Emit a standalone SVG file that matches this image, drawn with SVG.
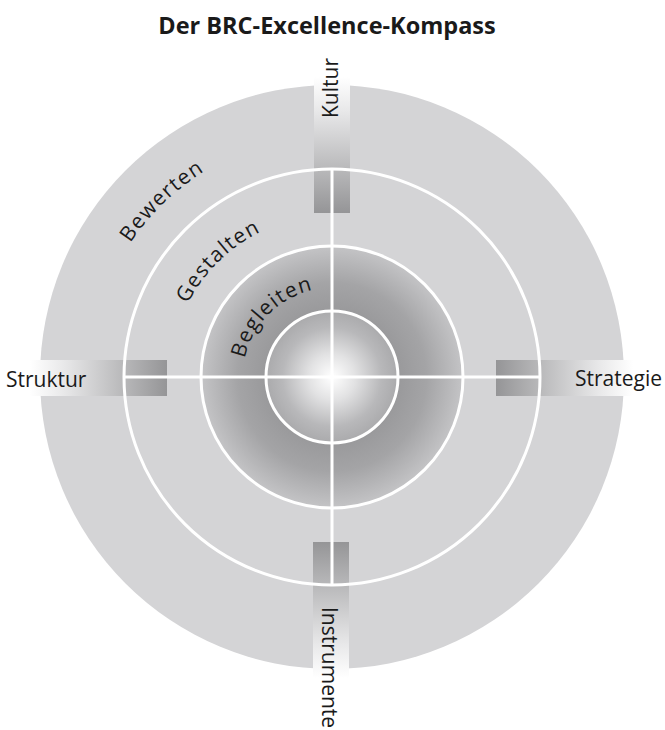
<svg xmlns="http://www.w3.org/2000/svg" xmlns:xlink="http://www.w3.org/1999/xlink" width="665" height="730" viewBox="0 0 665 730">
  <style>
    .lbl { font-family: "Open Sans", "Noto Sans", "Liberation Sans", sans-serif; font-size: 21px; fill: #1a1a1a; }
    .arc { font-family: "Open Sans", "Noto Sans", "Liberation Sans", sans-serif; font-size: 21px; fill: #1a1a1a; letter-spacing: 1.3px; }
    .title { font-family: "Open Sans", "Noto Sans", "Liberation Sans", sans-serif; font-size: 23.5px; font-weight: bold; fill: #1a1a1a; }
    .ring { fill: none; stroke: #ffffff; stroke-width: 3; }
    .cross { stroke: #ffffff; stroke-width: 3; }
  </style>
  <defs>
    <radialGradient id="gRing" cx="332" cy="377" r="131" gradientUnits="userSpaceOnUse">
      <stop offset="0.5" stop-color="#99999b"/>
      <stop offset="0.72" stop-color="#a4a4a6"/>
      <stop offset="1" stop-color="#c4c4c6"/>
    </radialGradient>
    <radialGradient id="gCore" cx="332" cy="377" r="66" gradientUnits="userSpaceOnUse">
      <stop offset="0" stop-color="#ffffff"/>
      <stop offset="0.35" stop-color="#e2e2e3"/>
      <stop offset="0.75" stop-color="#b8b8ba"/>
      <stop offset="1" stop-color="#aaaaac"/>
    </radialGradient>
    <linearGradient id="gDown" x1="0" y1="0" x2="0" y2="1">
      <stop offset="0" stop-color="#ffffff"/>
      <stop offset="0.25" stop-color="#e8e8e9"/>
      <stop offset="1" stop-color="#959597"/>
    </linearGradient>
    <linearGradient id="gUp" x1="0" y1="1" x2="0" y2="0">
      <stop offset="0" stop-color="#ffffff"/>
      <stop offset="0.25" stop-color="#e8e8e9"/>
      <stop offset="1" stop-color="#959597"/>
    </linearGradient>
    <linearGradient id="gRight" x1="0" y1="0" x2="1" y2="0">
      <stop offset="0" stop-color="#ffffff"/>
      <stop offset="0.25" stop-color="#e8e8e9"/>
      <stop offset="1" stop-color="#959597"/>
    </linearGradient>
    <linearGradient id="gLeft" x1="1" y1="0" x2="0" y2="0">
      <stop offset="0" stop-color="#ffffff"/>
      <stop offset="0.25" stop-color="#e8e8e9"/>
      <stop offset="1" stop-color="#959597"/>
    </linearGradient>
    <path id="pBewerten" d="M157.9,545.1 A242,242 0 0 1 506.1,208.9"/>
    <path id="pGestalten" d="M215.7,491.2 A163,163 0 0 1 448.3,262.8"/>
    <path id="pBegleiten" d="M269.0,440.0 A89,89 0 0 1 395.0,314.0"/>
  </defs>

  <text class="title" x="327" y="34" text-anchor="middle">Der BRC-Excellence-Kompass</text>

  <g id="compass">
    <circle cx="332" cy="377" r="292" fill="#d4d4d6"/>
    <circle cx="332" cy="377" r="131" fill="url(#gRing)"/>
    <circle cx="332" cy="377" r="66" fill="url(#gCore)"/>
  </g>

  <g id="bars">
    <rect id="bar-kultur" x="314" y="77" width="36" height="136" fill="url(#gDown)"/>
    <rect id="bar-instrumente" x="313" y="542" width="36" height="136" fill="url(#gUp)"/>
    <rect id="bar-struktur" x="30" y="360" width="137" height="36" fill="url(#gRight)"/>
    <rect id="bar-strategie" x="496" y="360" width="137" height="36" fill="url(#gLeft)"/>
  </g>

  <g id="connectors">
    <circle class="ring" cx="332" cy="377" r="208"/>
    <circle class="ring" cx="332" cy="377" r="131"/>
    <circle class="ring" cx="332" cy="377" r="66"/>
    <line class="cross" x1="332" y1="169" x2="332" y2="585"/>
    <line class="cross" x1="124" y1="377" x2="540" y2="377"/>
  </g>

  <g id="ring-labels">
    <text class="arc"><textPath xlink:href="#pBewerten" href="#pBewerten" startOffset="50%" text-anchor="middle">Bewerten</textPath></text>
    <text class="arc"><textPath xlink:href="#pGestalten" href="#pGestalten" startOffset="50%" text-anchor="middle">Gestalten</textPath></text>
    <text class="arc"><textPath xlink:href="#pBegleiten" href="#pBegleiten" startOffset="50%" text-anchor="middle">Begleiten</textPath></text>
  </g>

  <g id="node-kultur">
    <text class="lbl" transform="translate(338,88) rotate(-90)" text-anchor="middle">Kultur</text>
  </g>
  <g id="node-instrumente">
    <text class="lbl" transform="translate(322,607) rotate(90)">Instrumente</text>
  </g>
  <g id="node-struktur">
    <text class="lbl" x="6" y="387">Struktur</text>
  </g>
  <g id="node-strategie">
    <text class="lbl" x="575" y="386">Strategie</text>
  </g>
</svg>
